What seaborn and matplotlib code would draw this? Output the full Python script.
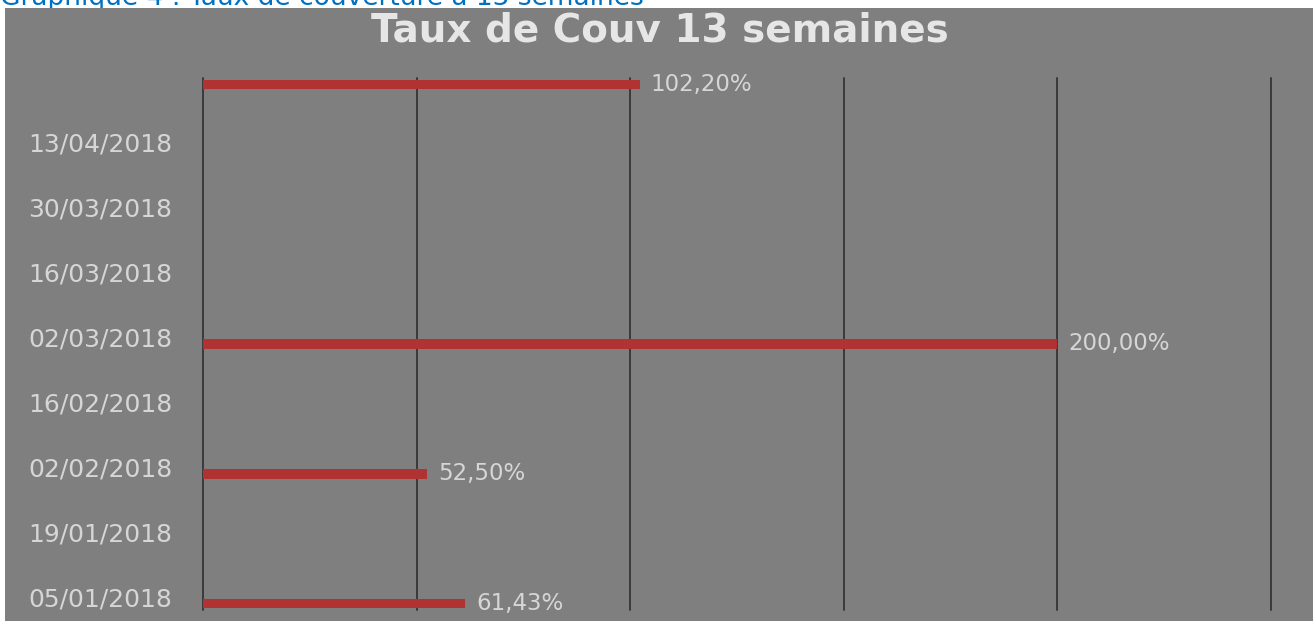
import numpy as np
import pandas as pd
import matplotlib.pyplot as plt
import seaborn as sns
from matplotlib.patches import Rectangle
from matplotlib.transforms import ScaledTranslation

# Data (top row to bottom row)
semaines = ["27/04/2018", "13/04/2018", "30/03/2018", "16/03/2018", "02/03/2018",
            "16/02/2018", "02/02/2018", "19/01/2018", "05/01/2018"]
tick_labels = ["", "13/04/2018", "30/03/2018", "16/03/2018", "02/03/2018",
               "16/02/2018", "02/02/2018", "19/01/2018", "05/01/2018"]
taux = [1.022, np.nan, np.nan, np.nan, 2.0, np.nan, 0.525, np.nan, 0.6143]
x_ticks = [0, 0.5, 1.0, 1.5, 2.0, 2.5]

df = pd.DataFrame({"semaine": semaines, "taux": taux})

gray = "#7f7f7f"
txt = "#d6d6d6"

sns.set_style("white")
plt.rcParams["font.family"] = ["DejaVu Sans"]

fig = plt.figure(figsize=(13.13, 6.21), dpi=100)
fig.patch.set_facecolor("white")
fig.patches.append(Rectangle((5 / 1313, 0), 1, 1 - 8 / 621, transform=fig.transFigure,
                             facecolor=gray, edgecolor="none", zorder=-4))

# Caption above the panel, mostly cut off by the figure edge
fig.text(0.0, 1 - 5 / 621, "Graphique 4 : Taux de couverture à 13 semaines",
         color="#0070c0", fontsize=19, va="baseline", ha="left", zorder=-5)

ax = fig.add_axes([203 / 1313, 1 - 610 / 621, (1271 - 203) / 1313, (610 - 78) / 621])
ax.set_facecolor("none")

sns.barplot(data=df, x="taux", y="semaine", order=semaines, orient="h",
            color="#b03232", saturation=1, width=0.15, linewidth=0,
            edgecolor="none", ax=ax, zorder=3)

ax.set_xlim(0, 2.5)
ax.set_ylim(8.1, -0.1)
ax.set_xticks(x_ticks)
ax.set_xticklabels([])
ax.grid(axis="x", color="#3a3a3a", linewidth=1.4)
ax.grid(axis="y", visible=False)
for gl in ax.xaxis.get_gridlines():
    gl.set_clip_on(False)
ax.set_axisbelow(True)
for s in ax.spines.values():
    s.set_visible(False)
ax.tick_params(length=0)

ax.set_yticks(range(len(semaines)))
ax.set_yticklabels(tick_labels, color=txt, fontsize=18)
ax.tick_params(axis="y", pad=22)
for lab in ax.get_yticklabels():
    lab.set_transform(lab.get_transform() + ScaledTranslation(0, 7 / 100, fig.dpi_scale_trans))
ax.set_xlabel("")
ax.set_ylabel("")

for i, v in enumerate(taux):
    if not np.isnan(v):
        ax.text(v + 0.025, i, f"{v * 100:.2f}%".replace(".", ","), color=txt,
                fontsize=16.5, va="center", ha="left")

fig.text(660 / 1313, 1 - 30 / 621, "Taux de Couv 13 semaines", color="#e6e6e6",
         fontsize=28, fontweight="bold", ha="center", va="center")

fig.savefig("out.png", dpi=100)
